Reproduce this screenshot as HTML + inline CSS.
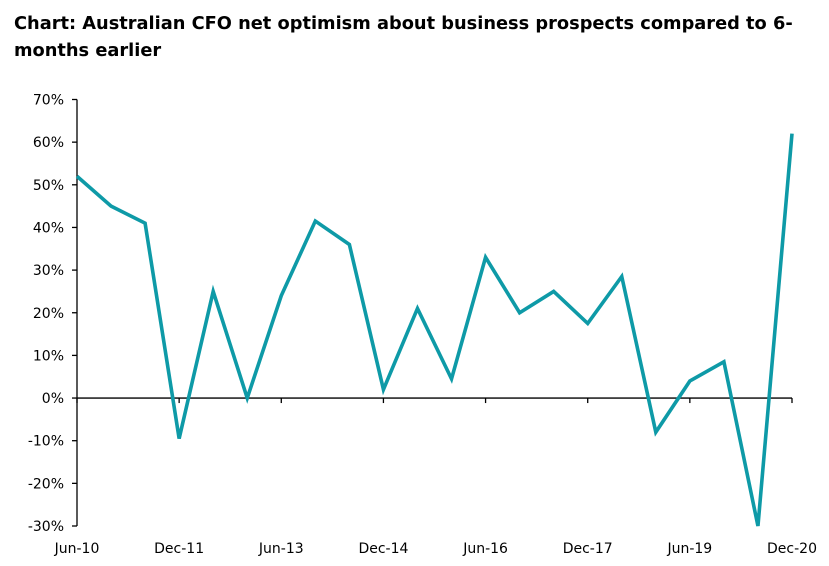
<!DOCTYPE html>
<html><head><meta charset="utf-8"><style>
body{margin:0;background:#fff;width:829px;height:566px;overflow:hidden;font-family:"DejaVu Sans","Liberation Sans",sans-serif}
h1{position:absolute;left:14px;top:10px;margin:0;font-family:"DejaVu Sans","Liberation Sans",sans-serif;font-size:17.8px;font-weight:bold;line-height:27px;color:#000;width:800px}
svg{position:absolute;left:0;top:0}
text{font-family:"DejaVu Sans","Liberation Sans",sans-serif;font-size:14px;fill:#000}
</style></head><body>
<h1>Chart: Australian CFO net optimism about business prospects compared to 6-months earlier</h1>
<svg id="c" width="829" height="566"></svg>
<script>
const categories=["Jun-10","Dec-10","Jun-11","Dec-11","Jun-12","Dec-12","Jun-13","Dec-13","Jun-14","Dec-14","Jun-15","Dec-15","Jun-16","Dec-16","Jun-17","Dec-17","Jun-18","Dec-18","Jun-19","Dec-19","Jun-20","Dec-20"];
const values=[52,45,41,-9.5,25,0,24,41.5,36,2,21,4.5,33,20,25,17.5,28.5,-8,4,8.5,-30,62];
const yTicks=[70,60,50,40,30,20,10,0,-10,-20,-30];
const xLabelIdx=[0,3,6,9,12,15,18,21];
const ns="http://www.w3.org/2000/svg",svg=document.getElementById('c');
const x0=77,x1=792,yTop=99.5,yBot=526;
const X=i=>x0+(x1-x0)*i/(categories.length-1);
const Y=v=>yTop+(70-v)*(yBot-yTop)/100;
function mk(t,a){const e=document.createElementNS(ns,t);for(const k in a)e.setAttribute(k,a[k]);svg.appendChild(e);return e;}
let e=mk('line',{x1:x0,x2:x0,y1:yTop,y2:yBot,stroke:'#000','stroke-width':1.3});


e=mk('line',{x1:x0,x2:x1,y1:Y(0),y2:Y(0),stroke:'#000','stroke-width':1.3});


yTicks.forEach(v=>{
 let t=mk('line',{x1:x0-5,x2:x0,y1:Y(v),y2:Y(v),stroke:'#000','stroke-width':1.3});
 
 
 let l=mk('text',{x:x0-13,y:Y(v)+5,'text-anchor':'end'});l.textContent=v+'%';
 
 
});
xLabelIdx.forEach(i=>{
 let t=mk('line',{x1:X(i),x2:X(i),y1:Y(0),y2:Y(0)+5,stroke:'#000','stroke-width':1.3});
 
 
 let l=mk('text',{x:X(i),y:553,'text-anchor':'middle'});l.textContent=categories[i];
 
 
});
const p=mk('polyline',{points:values.map((v,i)=>X(i)+','+Y(v)).join(' '),fill:'none',stroke:'#0e9aa7','stroke-width':3.6,'stroke-linejoin':'miter'});


</script>
</body></html>
